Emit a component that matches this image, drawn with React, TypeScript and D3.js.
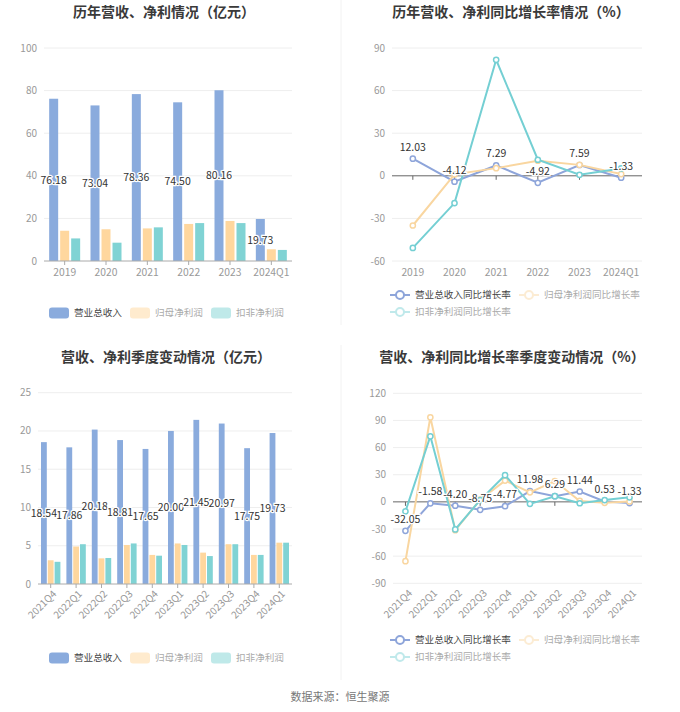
import React from 'react';
import * as d3 from 'd3';

// ---------- data ----------
const years = ['2019', '2020', '2021', '2022', '2023', '2024Q1'];
const annualRevenue = [76.18, 73.04, 78.36, 74.5, 80.16, 19.73];
const annualNetProfit = [14.2, 14.9, 15.3, 17.4, 18.8, 5.5];
const annualDeducted = [10.6, 8.6, 15.8, 17.8, 17.8, 5.2];

const annualRevenueGrowth = [12.03, -4.12, 7.29, -4.92, 7.59, -1.33];
const annualNetProfitGrowth = [-35.0, 1.0, 5.4, 10.6, 7.7, 1.2];
const annualDeductedGrowth = [-50.8, -19.2, 81.7, 11.3, 0.7, 5.2];

const quarters = ['2021Q4', '2022Q1', '2022Q2', '2022Q3', '2022Q4', '2023Q1', '2023Q2', '2023Q3', '2023Q4', '2024Q1'];
const quarterRevenue = [18.54, 17.86, 20.18, 18.81, 17.65, 20.0, 21.45, 20.97, 17.75, 19.73];
const quarterNetProfit = [3.1, 4.9, 3.35, 5.1, 3.8, 5.3, 4.1, 5.2, 3.8, 5.4];
const quarterDeducted = [2.9, 5.2, 3.4, 5.3, 3.7, 5.1, 3.65, 5.2, 3.8, 5.4];

const quarterRevenueGrowth = [-32.05, -1.58, -4.2, -8.75, -4.77, 11.98, 6.29, 11.44, 0.53, -1.33];
const quarterNetProfitGrowth = [-65.5, 93.5, -31.3, 2.5, 23.5, 10.5, 23.0, 1.0, -1.0, 0.5];
const quarterDeductedGrowth = [-10.5, 72.5, -30.5, 2.0, 29.5, -2.2, 6.3, -1.5, 2.0, 5.0];

const barSeriesNames = ['营业总收入', '归母净利润', '扣非净利润'];
const lineSeriesNames = ['营业总收入同比增长率', '归母净利润同比增长率', '扣非净利润同比增长率'];

const annualTicks = [0, 20, 40, 60, 80, 100];
const annualGrowthTicks = [-60, -30, 0, 30, 60, 90];
const quarterTicks = [0, 5, 10, 15, 20, 25];
const quarterGrowthTicks = [-90, -60, -30, 0, 30, 60, 90, 120];

const titles = [
  '历年营收、净利情况（亿元）',
  '历年营收、净利同比增长率情况（%）',
  '营收、净利季度变动情况（亿元）',
  '营收、净利同比增长率季度变动情况（%）',
];
const sourceText = '数据来源：恒生聚源';

// ---------- style ----------
const BAR_COLORS = ['#8aabdd', '#ffd79e', '#80d3d4'];
const LINE_COLORS = ['#8ea5da', '#f9d6a0', '#74cfd3'];
const FONT = '"Noto Sans CJK SC", "Noto Sans", sans-serif';
const AXIS_TEXT = '#999';
const GRID = '#eeeeee';
const LEGEND_FS = 9.6;

type LegendProps = { names: string[]; colors: string[]; kind: 'rect' | 'line'; x: number; y: number; rowW: number };

function Legend({ names, colors, kind, x, y, rowW }: LegendProps) {
  const items: { n: string; c: string; ix: number; iy: number; i: number }[] = [];
  let cx = x;
  let cy = y;
  names.forEach((n, i) => {
    const w = 25 + n.length * LEGEND_FS;
    if (cx + w > x + rowW && cx > x) {
      cx = x;
      cy += 17;
    }
    items.push({ n, c: colors[i], ix: cx, iy: cy, i });
    cx += w + 8;
  });
  return (
    <g>
      {items.map((it) => {
        const faded = it.i > 0;
        return (
          <g key={it.n} opacity={1}>
            {kind === 'rect' ? (
              <rect x={it.ix} y={it.iy - 5.5} width={20} height={11} rx={3} fill={it.c} opacity={faded ? 0.5 : 1} />
            ) : (
              <g opacity={faded ? 0.45 : 1}>
                <line x1={it.ix} x2={it.ix + 20} y1={it.iy} y2={it.iy} stroke={it.c} strokeWidth={2} />
                <circle cx={it.ix + 10} cy={it.iy} r={4} fill="#fff" stroke={it.c} strokeWidth={2} />
              </g>
            )}
            <text
              x={it.ix + 25}
              y={it.iy}
              dy="0.36em"
              fontSize={LEGEND_FS}
              fill={faded ? '#aaa' : '#444'}
              fontFamily={FONT}
            >
              {it.n}
            </text>
          </g>
        );
      })}
    </g>
  );
}

type BarProps = {
  cats: string[];
  series: number[][];
  ticks: number[];
  x0: number;
  x1: number;
  yTop: number;
  yBottom: number;
  barW: number;
  gap: number;
  rotate: boolean;
  labelDx: number;
  legendY: number;
};

function BarChart({ cats, series, ticks, x0, x1, yTop, yBottom, barW, gap, rotate, labelDx, legendY }: BarProps) {
  const x = d3.scaleBand().domain(cats).range([x0, x1]);
  const groupW = barW * 3 + gap * 2;
  const inner = d3
    .scaleBand<string>()
    .domain(['0', '1', '2'])
    .range([0, groupW])
    .paddingInner(gap / (barW + gap));
  const y = d3.scaleLinear().domain([ticks[0], ticks[ticks.length - 1]]).range([yBottom, yTop]);
  const center = (c: string) => (x(c) as number) + x.bandwidth() / 2;
  return (
    <g>
      {ticks.map((t) => (
        <g key={t}>
          {t !== 0 && <line x1={x0} x2={x1} y1={y(t)} y2={y(t)} stroke={GRID} />}
          <text x={x0 - 7} y={y(t)} dy="0.35em" textAnchor="end" fontSize={10} fill={AXIS_TEXT} fontFamily={FONT}>
            {t}
          </text>
        </g>
      ))}
      {series.map((vals, si) =>
        vals.map((v, ci) => {
          const c = cats[ci];
          const bx = center(c) - groupW / 2 + (inner(String(si)) as number);
          return (
            <rect
              key={si + '-' + ci}
              x={bx}
              y={y(v)}
              width={inner.bandwidth()}
              height={y(0) - y(v)}
              fill={BAR_COLORS[si]}
            />
          );
        })
      )}
      <line x1={x0} x2={x1} y1={y(0)} y2={y(0)} stroke="#aaa" />
      {cats.map((c) => (
        <line key={c} x1={center(c)} x2={center(c)} y1={y(0)} y2={y(0) + 4} stroke="#aaa" />
      ))}
      {cats.map((c) =>
        rotate ? (
          <text
            key={c}
            transform={`translate(${center(c) + 4},${yBottom + 8}) rotate(-45)`}
            textAnchor="end"
            dy="0.35em"
            fontSize={10}
            fill={AXIS_TEXT}
            fontFamily={FONT}
          >
            {c}
          </text>
        ) : (
          <text key={c} x={center(c)} y={yBottom + 15} textAnchor="middle" fontSize={10.3} fill={AXIS_TEXT} fontFamily={FONT}>
            {c}
          </text>
        )
      )}
      {series[0].map((v, ci) => {
        const c = cats[ci];
        const bx = center(c) - groupW / 2 + (inner('0') as number) + inner.bandwidth() / 2;
        return (
          <text
            key={'l' + ci}
            x={bx + labelDx}
            y={y(v / 2)}
            dy="0.35em"
            textAnchor="middle"
            fontSize={10.5}
            fill="#333"
            stroke="#fff"
            strokeWidth={2.5}
            paintOrder="stroke"
            fontFamily={FONT}
          >
            {v.toFixed(2)}
          </text>
        );
      })}
      <Legend names={barSeriesNames} colors={BAR_COLORS} kind="rect" x={49} y={legendY} rowW={260} />
    </g>
  );
}

type LineProps = {
  cats: string[];
  series: number[][];
  ticks: number[];
  x0: number;
  x1: number;
  yTop: number;
  yBottom: number;
  rotate: boolean;
  legendY: number;
};

function LineChart({ cats, series, ticks, x0, x1, yTop, yBottom, rotate, legendY }: LineProps) {
  const x = d3.scaleBand().domain(cats).range([x0, x1]);
  const center = (c: string) => (x(c) as number) + x.bandwidth() / 2;
  const y = d3.scaleLinear().domain([ticks[0], ticks[ticks.length - 1]]).range([yBottom, yTop]);
  const line = d3
    .line<number>()
    .x((_, i) => center(cats[i]))
    .y((v) => y(v));
  return (
    <g>
      {ticks.map((t) => (
        <g key={t}>
          {t !== 0 && <line x1={x0} x2={x1} y1={y(t)} y2={y(t)} stroke={GRID} />}
          <text x={x0 - 7} y={y(t)} dy="0.35em" textAnchor="end" fontSize={10} fill={AXIS_TEXT} fontFamily={FONT}>
            {t}
          </text>
        </g>
      ))}
      <line x1={x0} x2={x1} y1={y(0)} y2={y(0)} stroke="#666" />
      {cats.map((c) => (
        <line key={c} x1={center(c)} x2={center(c)} y1={y(0)} y2={y(0) + 4} stroke="#666" />
      ))}
      {cats.map((c) =>
        rotate ? (
          <text
            key={c}
            transform={`translate(${center(c) + 5},${yBottom + 8}) rotate(-45)`}
            textAnchor="end"
            dy="0.35em"
            fontSize={10}
            fill={AXIS_TEXT}
            fontFamily={FONT}
          >
            {c}
          </text>
        ) : (
          <text key={c} x={center(c)} y={yBottom + 15} textAnchor="middle" fontSize={10.3} fill={AXIS_TEXT} fontFamily={FONT}>
            {c}
          </text>
        )
      )}
      {series.map((vals, si) => (
        <g key={si}>
          <path d={line(vals) || ''} fill="none" stroke={LINE_COLORS[si]} strokeWidth={2} />
          {vals.map((v, i) => (
            <circle key={i} cx={center(cats[i])} cy={y(v)} r={2.6} fill="#fff" stroke={LINE_COLORS[si]} strokeWidth={1.5} />
          ))}
        </g>
      ))}
      {series[0].map((v, i) => (
        <text
          key={'l' + i}
          x={center(cats[i])}
          y={y(v) - 8}
          textAnchor="middle"
          fontSize={10.5}
          fill="#333"
          stroke="#fff"
          strokeWidth={2.5}
          paintOrder="stroke"
          fontFamily={FONT}
        >
          {v.toFixed(2)}
        </text>
      ))}
      <Legend names={lineSeriesNames} colors={LINE_COLORS} kind="line" x={390} y={legendY} rowW={260} />
    </g>
  );
}

export default function App() {
  return (
    <svg
      width={680}
      height={712}
      viewBox="0 0 680 712"
      style={{ position: 'absolute', left: 0, top: 0, background: '#fff' }}
      fontFamily={FONT}
    >
      <rect x={0} y={0} width={680} height={712} fill="#fff" />
      <line x1={341} x2={341} y1={0} y2={325} stroke="#f2f2f2" />
      <line x1={341} x2={341} y1={345} y2={680} stroke="#f2f2f2" />

      <text x={164} y={17} textAnchor="middle" fontSize={14} fontWeight="bold" fill="#3a3a3a">
        {titles[0]}
      </text>
      <text x={511} y={17} textAnchor="middle" fontSize={14} fontWeight="bold" fill="#3a3a3a">
        {titles[1]}
      </text>
      <text x={166} y={362} textAnchor="middle" fontSize={14} fontWeight="bold" fill="#3a3a3a">
        {titles[2]}
      </text>
      <text x={512} y={362} textAnchor="middle" fontSize={14} fontWeight="bold" fill="#3a3a3a">
        {titles[3]}
      </text>

      <BarChart
        cats={years}
        series={[annualRevenue, annualNetProfit, annualDeducted]}
        ticks={annualTicks}
        x0={44}
        x1={292}
        yTop={48}
        yBottom={261}
        barW={9}
        gap={2}
        rotate={false}
        labelDx={0}
        legendY={313}
      />
      <LineChart
        cats={years}
        series={[annualRevenueGrowth, annualNetProfitGrowth, annualDeductedGrowth]}
        ticks={annualGrowthTicks}
        x0={392}
        x1={642}
        yTop={48}
        yBottom={261}
        rotate={false}
        legendY={295}
      />
      <BarChart
        cats={quarters}
        series={[quarterRevenue, quarterNetProfit, quarterDeducted]}
        ticks={quarterTicks}
        x0={38}
        x1={292}
        yTop={392.7}
        yBottom={584}
        barW={5.8}
        gap={1}
        rotate={true}
        labelDx={0}
        legendY={658}
      />
      <LineChart
        cats={quarters}
        series={[quarterRevenueGrowth, quarterNetProfitGrowth, quarterDeductedGrowth]}
        ticks={quarterGrowthTicks}
        x0={393}
        x1={642}
        yTop={393.3}
        yBottom={583.3}
        rotate={true}
        legendY={640}
      />

      <text x={340} y={701} textAnchor="middle" fontSize={11} fill="#777">
        {sourceText}
      </text>
    </svg>
  );
}
